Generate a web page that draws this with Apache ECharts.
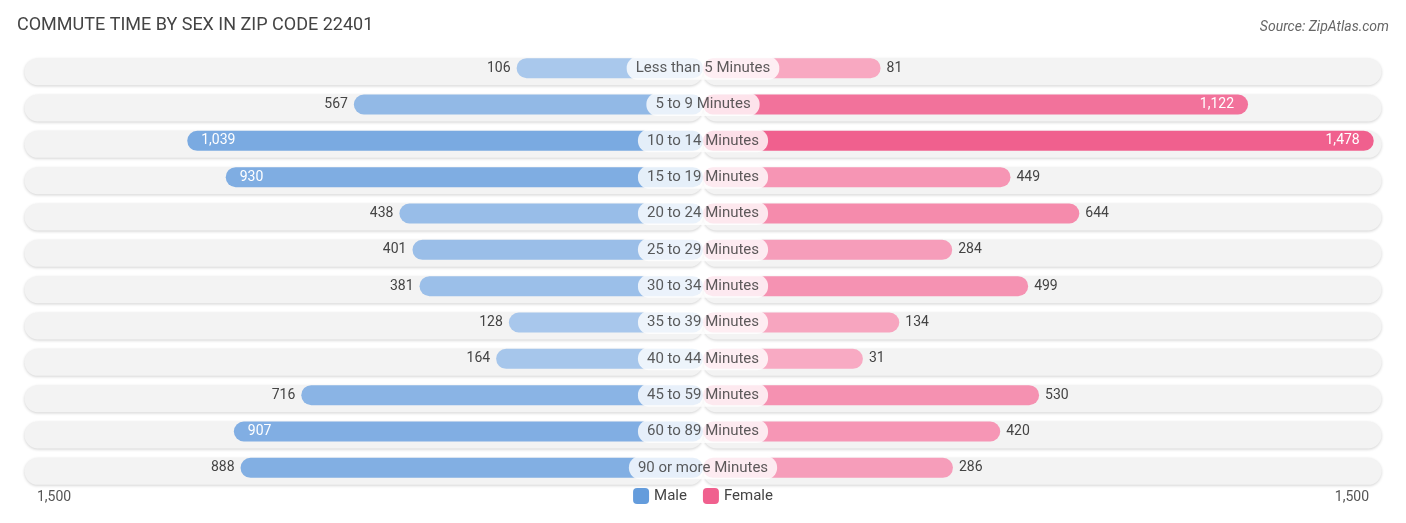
<!DOCTYPE html>
<html>
<head>
<meta charset="utf-8">
<script src="https://cdn.jsdelivr.net/npm/echarts@6/dist/echarts.min.js"></script>
<style>html,body{margin:0;padding:0;background:#fff}#main{width:1406px;height:523px}</style>
</head>
<body>
<div id="main"></div>
<script>
let categories = ['Less than 5 Minutes', '5 to 9 Minutes', '10 to 14 Minutes', '15 to 19 Minutes', '20 to 24 Minutes', '25 to 29 Minutes', '30 to 34 Minutes', '35 to 39 Minutes', '40 to 44 Minutes', '45 to 59 Minutes', '60 to 89 Minutes', '90 or more Minutes'];
let male = [106, 567, 1039, 930, 438, 401, 381, 128, 164, 716, 907, 888];
let female = [81, 1122, 1478, 449, 644, 284, 499, 134, 31, 530, 420, 286];

let myChart = echarts.init(document.getElementById('main'));
let offset = 422; // 中间标签占的宽度（换算成数值）
let axisMax = 1500 + offset;

function mix(a, b, t) {
    let r = Math.round(a[0] + (b[0] - a[0]) * t);
    let g = Math.round(a[1] + (b[1] - a[1]) * t);
    let bl = Math.round(a[2] + (b[2] - a[2]) * t);
    return 'rgb(' + r + ',' + g + ',' + bl + ')';
}
let maxV = 1478;
function maleColor(v) { return mix([174, 203, 237], [100, 156, 220], v / maxV); }
function femaleColor(v) { return mix([248, 172, 196], [240, 96, 142], v / maxV); }

let option = {
    animation: false,
    title: [{
        text: 'COMMUTE TIME BY SEX IN ZIP CODE 22401',
        left: 12, top: 11,
        textStyle: { fontFamily: 'Roboto', fontSize: 18, fontWeight: 'normal', color: '#444' }
    }, {
        text: 'Source: ZipAtlas.com',
        right: 12, top: 15,
        textStyle: { fontFamily: 'Roboto', fontSize: 14, fontStyle: 'italic', fontWeight: 'normal', color: '#666' }
    }],
    legend: {
        bottom: 14, left: 'center',
        itemWidth: 16, itemHeight: 16, itemGap: 16,
        data: ['Male', 'Female'],
        textStyle: { fontFamily: 'Roboto', fontSize: 15, color: '#444' }
    },
    graphic: [
        { type: 'text', left: 37, top: 490, style: { text: '1,500', font: '14px Roboto', fill: '#555' } },
        { type: 'text', right: 37, top: 490, style: { text: '1,500', font: '14px Roboto', fill: '#555' } }
    ],
    grid: { left: 24.5, right: 24.5, top: 50, height: 436 },
    xAxis: { type: 'value', min: -axisMax, max: axisMax, show: false },
    yAxis: { type: 'category', data: categories, inverse: true, show: false },
    series: [{
        type: 'bar', silent: true, barWidth: 27, barGap: '-100%',
        data: categories.map(() => axisMax),
        itemStyle: { color: '#f3f3f3', borderRadius: 13.5, shadowColor: 'rgba(0,0,0,0.18)', shadowBlur: 3, shadowOffsetY: 1 }
    }, {
        type: 'bar', silent: true, barWidth: 27, barGap: '-100%',
        data: categories.map(() => -axisMax),
        itemStyle: { color: '#f3f3f3', borderRadius: 13.5, shadowColor: 'rgba(0,0,0,0.18)', shadowBlur: 3, shadowOffsetY: 1 }
    }, {
        name: 'Male', type: 'bar', barWidth: 20, barGap: '-100%',
        itemStyle: { color: 'rgb(100,156,220)' },
        data: male.map(v => ({
            value: -(v + offset),
            itemStyle: { color: maleColor(v), borderRadius: 10 },
            label: v > 900
                ? { show: true, position: 'insideLeft', color: '#fff', formatter: v.toLocaleString('en-US'), distance: 14 }
                : { show: true, position: 'left', color: '#444', formatter: v.toLocaleString('en-US'), distance: 6 }
        })),
        label: { fontFamily: 'Roboto', fontSize: 14 }
    }, {
        name: 'Female', type: 'bar', barWidth: 20, barGap: '-100%',
        itemStyle: { color: 'rgb(240,96,142)' },
        data: female.map(v => ({
            value: v + offset,
            itemStyle: { color: femaleColor(v), borderRadius: 10 },
            label: v > 900
                ? { show: true, position: 'insideRight', color: '#fff', formatter: v.toLocaleString('en-US'), distance: 14 }
                : { show: true, position: 'right', color: '#444', formatter: v.toLocaleString('en-US'), distance: 6 }
        })),
        label: { fontFamily: 'Roboto', fontSize: 14 }
    }, {
        type: 'scatter', silent: true, symbolSize: 0,
        data: categories.map(c => [0, c]),
        label: {
            show: true, position: 'inside',
            formatter: p => p.data[1],
            backgroundColor: '#fff', borderRadius: 11,
            padding: [4, 9, 4, 9],
            fontFamily: 'Roboto', fontSize: 15, color: '#333'
        }
    }]
};

myChart.setOption(option);
</script>
</body>
</html>
